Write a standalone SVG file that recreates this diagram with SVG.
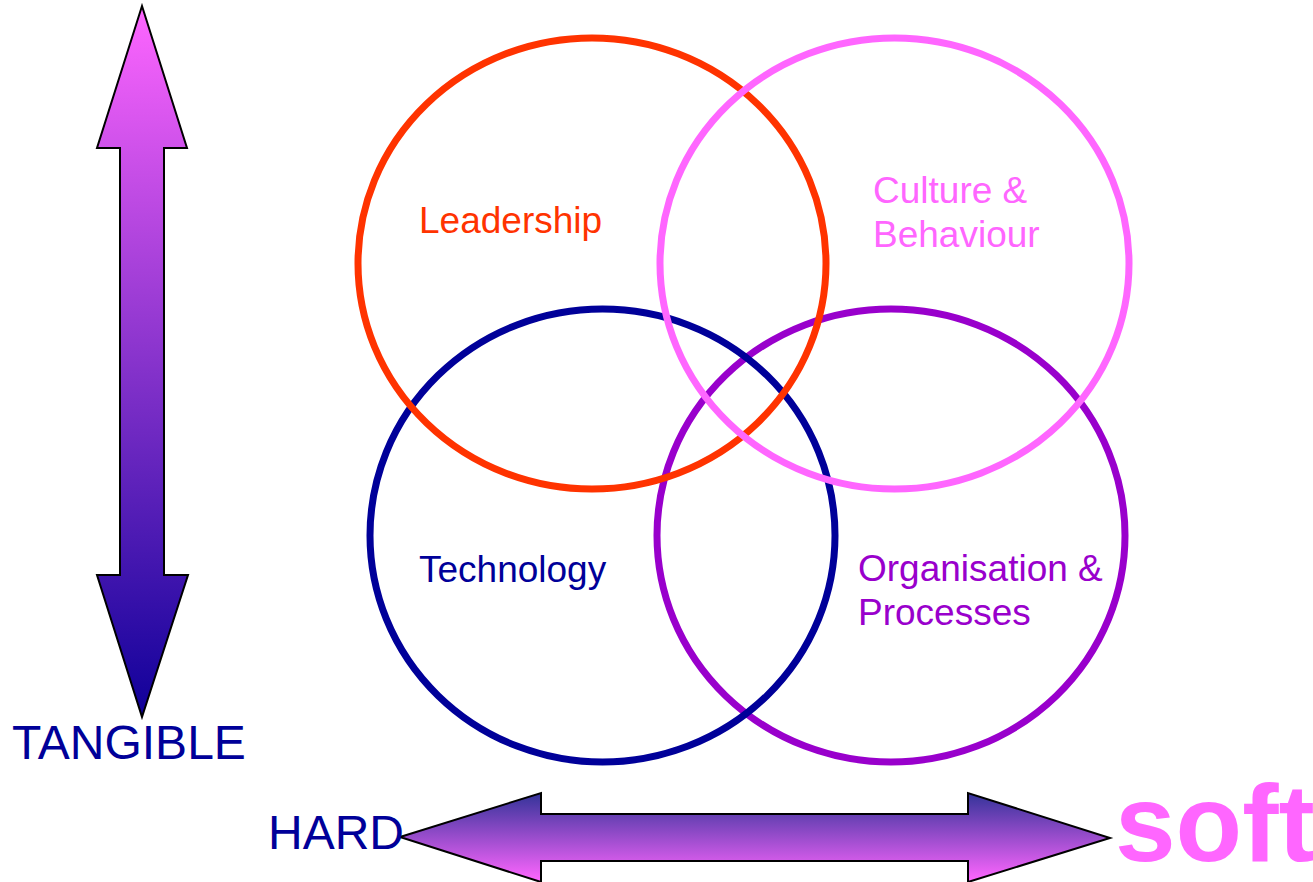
<svg xmlns="http://www.w3.org/2000/svg" width="1313" height="882" viewBox="0 0 1313 882">
<defs>
<linearGradient id="gv" gradientUnits="userSpaceOnUse" x1="0" y1="6" x2="0" y2="717">
<stop offset="0" stop-color="#FF66FF"/>
<stop offset="1" stop-color="#0F0099"/>
</linearGradient>
<linearGradient id="gh" gradientUnits="userSpaceOnUse" x1="0" y1="793" x2="0" y2="881">
<stop offset="0" stop-color="#333399"/>
<stop offset="1" stop-color="#FF66FF"/>
</linearGradient>
<style>
.ring{fill:none;stroke-width:7}
.arrow{stroke:#000;stroke-width:2;stroke-linejoin:miter}
.lbl{font-family:"Liberation Sans",Arial,sans-serif;font-size:37px}
.axis{font-family:"Liberation Sans",Arial,sans-serif;font-size:48px;fill:#000099}
</style>
</defs>
<rect width="1313" height="882" fill="#fff"/>
<g id="arrows">
<polygon id="vertical-arrow" class="arrow" fill="url(#gv)" points="142,6 187,148 164,148 164,575 188,575 142,717 97,575 120,575 120,148 97,148"/>
<polygon id="horizontal-arrow" class="arrow" fill="url(#gh)" points="400,837 541,793 541,814 968,814 968,793 1110,838 968,882 968,861 541,861 541,882"/>
</g>
<g id="organisation">
<ellipse class="ring" stroke="#9900CC" cx="891" cy="535.5" rx="234" ry="226.5"/>
<text class="lbl" fill="#9900CC" x="858" y="581">Organisation &amp;</text>
<text class="lbl" fill="#9900CC" x="858" y="625">Processes</text>
</g>
<g id="technology">
<ellipse class="ring" stroke="#000099" cx="602.5" cy="535.5" rx="232.5" ry="226.5"/>
<text class="lbl" fill="#000099" x="419" y="582">Technology</text>
</g>
<g id="leadership">
<ellipse class="ring" stroke="#FF3300" cx="592" cy="263.5" rx="234" ry="225.5"/>
<text class="lbl" fill="#FF3300" x="419" y="233">Leadership</text>
</g>
<g id="culture">
<ellipse class="ring" stroke="#FF66FF" cx="894.5" cy="263.5" rx="234.5" ry="225.5"/>
<text class="lbl" fill="#FF66FF" x="873" y="203">Culture &amp;</text>
<text class="lbl" fill="#FF66FF" x="873" y="247">Behaviour</text>
</g>
<g id="labels">
<text class="axis" x="12" y="759">TANGIBLE</text>
<text class="axis" x="268" y="849">HARD</text>
<text x="1115" y="861" font-family="'Liberation Sans',Arial,sans-serif" font-size="109" font-weight="bold" fill="#FF66FF">soft</text>
</g>
</svg>
